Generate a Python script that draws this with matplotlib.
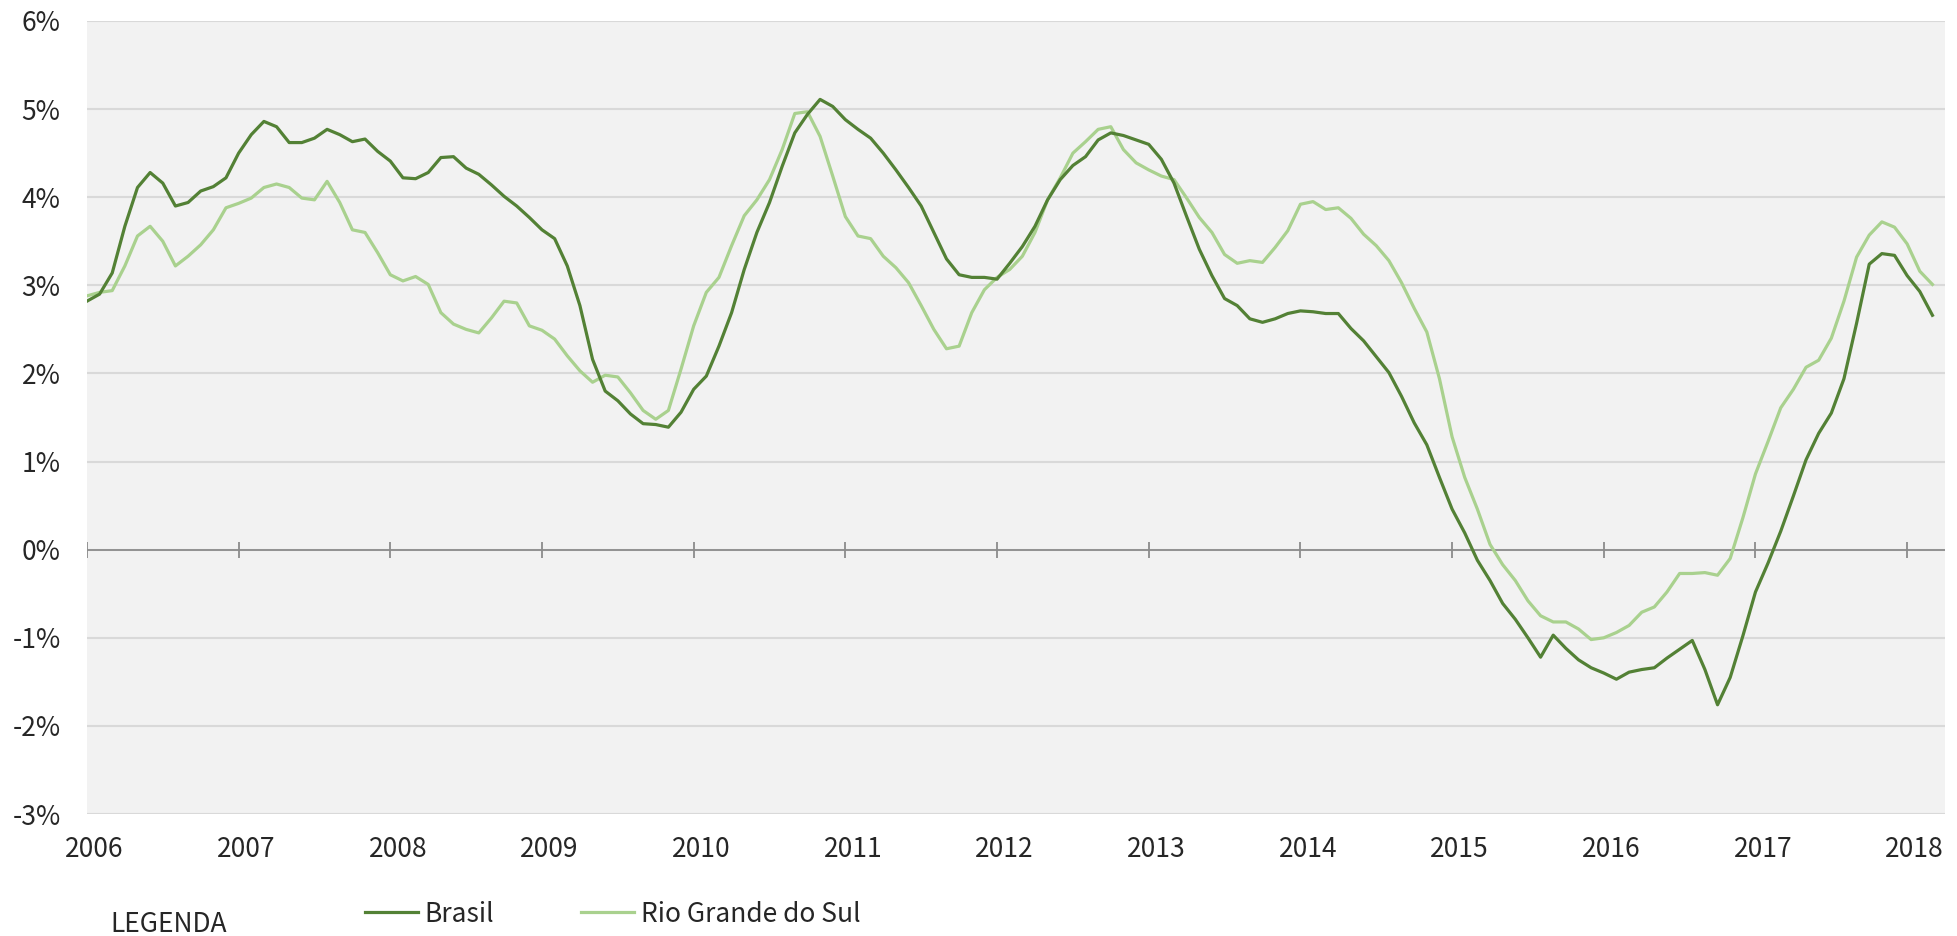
import numpy as np
import matplotlib
matplotlib.use('Agg')
import matplotlib.pyplot as plt

# monthly values, Jan 2006 .. Mar 2018 (% , 12-month change)
brasil = [2.82, 2.90, 3.14, 3.67, 4.11, 4.28, 4.16, 3.90, 3.94, 4.07, 4.12, 4.22,
          4.50, 4.71, 4.86, 4.80, 4.62, 4.62, 4.67, 4.77, 4.71, 4.63, 4.66, 4.52,
          4.41, 4.22, 4.21, 4.28, 4.45, 4.46, 4.33, 4.26, 4.14, 4.01, 3.90, 3.77,
          3.63, 3.53, 3.22, 2.77, 2.16, 1.80, 1.69, 1.54, 1.43, 1.42, 1.39, 1.56,
          1.82, 1.97, 2.31, 2.69, 3.18, 3.60, 3.94, 4.35, 4.73, 4.94, 5.11, 5.03,
          4.88, 4.77, 4.67, 4.50, 4.31, 4.11, 3.90, 3.60, 3.30, 3.12, 3.09, 3.09,
          3.07, 3.25, 3.44, 3.67, 3.97, 4.20, 4.36, 4.46, 4.65, 4.73, 4.70, 4.65,
          4.60, 4.43, 4.16, 3.78, 3.41, 3.11, 2.85, 2.77, 2.62, 2.58, 2.62, 2.68,
          2.71, 2.70, 2.68, 2.68, 2.51, 2.37, 2.19, 2.01, 1.74, 1.44, 1.19, 0.82,
          0.46, 0.19, -0.12, -0.35, -0.61, -0.79, -1.00, -1.22, -0.97, -1.12, -1.25, -1.34,
          -1.40, -1.47, -1.39, -1.36, -1.34, -1.23, -1.13, -1.03, -1.36, -1.76, -1.45, -0.98,
          -0.48, -0.15, 0.21, 0.61, 1.02, 1.32, 1.55, 1.94, 2.57, 3.24, 3.36, 3.34,
          3.11, 2.93, 2.66]

rio_grande_do_sul = [2.88, 2.92, 2.94, 3.22, 3.56, 3.67, 3.50, 3.22, 3.33, 3.46, 3.63, 3.88,
                     3.93, 3.99, 4.11, 4.15, 4.11, 3.99, 3.97, 4.18, 3.94, 3.63, 3.60, 3.37,
                     3.12, 3.05, 3.10, 3.01, 2.69, 2.56, 2.50, 2.46, 2.63, 2.82, 2.80, 2.54,
                     2.49, 2.39, 2.20, 2.03, 1.90, 1.98, 1.96, 1.78, 1.58, 1.48, 1.58, 2.05,
                     2.54, 2.92, 3.09, 3.45, 3.79, 3.97, 4.20, 4.54, 4.95, 4.97, 4.69, 4.24,
                     3.78, 3.56, 3.53, 3.33, 3.20, 3.03, 2.77, 2.50, 2.28, 2.31, 2.69, 2.95,
                     3.09, 3.18, 3.33, 3.60, 3.97, 4.22, 4.50, 4.63, 4.77, 4.80, 4.54, 4.39,
                     4.31, 4.24, 4.20, 3.99, 3.77, 3.60, 3.35, 3.25, 3.28, 3.26, 3.43, 3.62,
                     3.92, 3.95, 3.86, 3.88, 3.76, 3.58, 3.45, 3.28, 3.03, 2.74, 2.47, 1.94,
                     1.28, 0.82, 0.46, 0.06, -0.17, -0.35, -0.58, -0.75, -0.82, -0.82, -0.90, -1.02,
                     -1.00, -0.94, -0.86, -0.71, -0.65, -0.48, -0.27, -0.27, -0.26, -0.29, -0.10, 0.36,
                     0.86, 1.23, 1.61, 1.82, 2.07, 2.15, 2.40, 2.82, 3.32, 3.57, 3.72, 3.66,
                     3.47, 3.16, 3.01]

years = ['2006', '2007', '2008', '2009', '2010', '2011', '2012',
         '2013', '2014', '2015', '2016', '2017', '2018']
y_ticks = [-3, -2, -1, 0, 1, 2, 3, 4, 5, 6]

plt.rcParams['font.family'] = ['Noto Sans CJK JP', 'DejaVu Sans']
text_color = '#262626'

fig = plt.figure(figsize=(19.58, 9.36), dpi=100)
ax = fig.add_axes([0.0444, 0.1303, 0.9490, 0.8473])
ax.set_facecolor('#f2f2f2')

months = np.arange(len(brasil))
ax.plot(months, brasil, color='#538135', lw=2.3, label='Brasil',
        solid_joinstyle='round', zorder=4)
ax.plot(months, rio_grande_do_sul, color='#a9d18e', lw=2.3,
        label='Rio Grande do Sul', solid_joinstyle='round', zorder=3)

ax.set_xlim(0, 147)
ax.set_ylim(-3, 6)

year_pos = np.arange(len(years)) * 12
ax.set_xticks(year_pos + 0.6)
ax.set_xticklabels(years)
ax.set_yticks(y_ticks)
ax.set_yticklabels([f'{v}%' for v in y_ticks])
ax.tick_params(axis='both', length=0, labelsize=19, colors=text_color)
ax.tick_params(axis='x', pad=16)
ax.tick_params(axis='y', pad=19)

ax.grid(axis='y', color='#d9d9d9', lw=1.5)
ax.set_axisbelow(True)
for s in ax.spines.values():
    s.set_visible(False)

# zero line with year tick marks
ax.axhline(0, color='#8c8c8c', lw=1.3, zorder=2)
ax.vlines(year_pos, -0.09, 0.09, color='#8c8c8c', lw=1.3, zorder=2)

fig.text(110 / 1958, 1 - 925 / 936, 'LEGENDA', fontsize=19, color=text_color,
         ha='left', va='center')
fig.legend(loc='center left', bbox_to_anchor=(352 / 1958, 1 - 914 / 936), ncol=2,
           frameon=False, fontsize=19, handlelength=2.0, handletextpad=0.25,
           columnspacing=3.3, borderpad=0, labelcolor=text_color)

fig.savefig('out.png', dpi=100, facecolor='white')
